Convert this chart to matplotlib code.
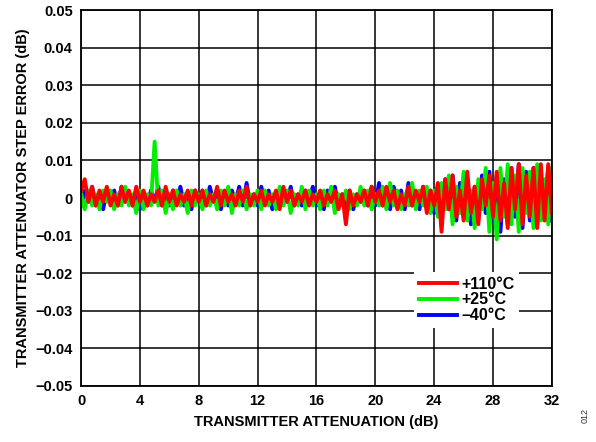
import numpy as np
import matplotlib.pyplot as plt

plt.rcParams['font.family'] = ['Liberation Sans', 'DejaVu Sans']
plt.rcParams['font.weight'] = 'bold'

# attenuation steps (dB), 0.25 dB grid
attenuation = np.arange(0, 32.01, 0.25)

# step error, in units of 0.001 dB
err_110c = [
    2, 5, -1, 3, -2, 2, -1, 3, -2, 1, -2, 3, -1, 2, -2, 3, -1,
    2, -2, 1, -1, 2, -2, 3, -1, 2, -2, 1, -1, 2, -2, 2, -1,
    2, -2, 1, -1, 3, -2, 2, -1, 1, -2, 2, -1, 3, -2, 1, -1,
    2, -2, 1, -1, 2, -3, 3, -1, 2, -2, 1, -1, 2, -2, 1, -1,
    2, -2, 1, -1, 2, -3, 1, -7, 2, -2, 1, -1, 2, -2, 3, -1,
    2, -2, 3, -1, 2, -3, 1, -2, 3, -2, 2, -1, 3, -4, 2, -2,
    4, -9, 5, -3, 6, -5, 2, -6, 7, -4, 3, -7, 5, -2, 6, -5,
    7, -6, 4, -8, 8, -3, 9, -7, 6, -5, 8, -8, 9, -6, 9, -4,
]
err_25c = [
    1, -3, 2, -2, 1, -3, 2, -1, 2, -3, 1, -2, 3, -2, 1, -4, 2,
    -3, 1, -2, 15, -2, 2, -4, 1, -3, 2, -2, 1, -4, 2, -2, 1,
    -3, 2, -2, 1, -3, 2, -2, 3, -4, 1, -2, 2, -3, 1, -2, 2,
    -3, 2, -2, 1, -3, 3, -2, 2, -4, 1, -2, 3, -3, 2, -2, 1,
    -3, 2, -2, 3, -4, 1, -2, 2, -3, 1, -2, 3, -2, 2, -3, 1,
    -2, 3, -3, 4, -2, 2, -3, 1, -2, 4, -3, 2, -2, 3, -4, 2,
    -5, 4, -3, 6, -7, 3, -4, 7, -6, 2, -8, 5, -3, 8, -9, 4,
    -11, 8, -5, 9, -7, 6, -9, 8, -4, 7, -8, 9, -6, 5, -7, 8,
]
err_m40c = [
    -2, 2, -1, 3, -2, 1, -3, 2, -1, 2, -2, 3, -1, 1, -2, 2, -3,
    1, -2, 2, -1, 3, -2, 1, -2, 2, -1, 3, -2, 1, -3, 2, -1,
    2, -2, 3, -1, 2, -3, 1, -2, 2, -1, 3, -2, 4, -2, 1, -2,
    3, -1, 2, -3, 1, -2, 2, -1, 3, -2, 1, -2, 2, -1, 3, -2,
    1, -3, 2, -1, 3, -2, 1, -2, 2, -3, 1, -1, 2, -2, 3, -2,
    4, -2, 2, -3, 3, -1, 2, -3, 4, -2, 1, -3, 3, -2, 2, -4,
    3, -5, 5, -3, 6, -6, 4, -4, 5, -7, 3, -5, 6, -4, 7, -6,
    6, -9, 5, -7, 8, -5, 9, -8, 7, -6, 8, -7, 6, -5, 8, -6,
]

x_ticks = [0, 4, 8, 12, 16, 20, 24, 28, 32]
y_ticks = [-0.05, -0.04, -0.03, -0.02, -0.01, 0, 0.01, 0.02, 0.03, 0.04, 0.05]
y_labels = ['\u22120.05', '\u22120.04', '\u22120.03', '\u22120.02', '\u22120.01', '0',
            '0.01', '0.02', '0.03', '0.04', '0.05']

fig = plt.figure(figsize=(5.96, 4.42), dpi=100)
ax = fig.add_axes([0.136, 0.127, 0.79, 0.85])

lw = 2.8
l_blue, = ax.plot(attenuation, np.array(err_m40c) / 1000, color='#0000ff', lw=lw, label='\u201340\u00b0C')
l_green, = ax.plot(attenuation, np.array(err_25c) / 1000, color='#00ee00', lw=lw, label='+25\u00b0C')
l_red, = ax.plot(attenuation, np.array(err_110c) / 1000, color='#ff0000', lw=lw, label='+110\u00b0C')

ax.set_xlim(0, 32)
ax.set_ylim(-0.05, 0.05)
ax.set_xticks(x_ticks)
ax.set_yticks(y_ticks)
ax.set_yticklabels(y_labels)
ax.grid(True, color='black', lw=1.1)
ax.set_axisbelow(True)
ax.tick_params(length=0, labelsize=10.5, pad=6)
for s in ax.spines.values():
    s.set_linewidth(1.3)

ax.set_xlabel('TRANSMITTER ATTENUATION (dB)', fontsize=10.5, fontweight='bold', labelpad=5)
ax.set_ylabel('TRANSMITTER ATTENUATOR STEP ERROR (dB)', fontsize=10.5, fontweight='bold', labelpad=4)

leg = ax.legend(handles=[l_red, l_green, l_blue], loc='upper left', bbox_to_anchor=(0.69, 0.325),
                frameon=True, fancybox=False, edgecolor='none', framealpha=1,
                fontsize=11.5, handlelength=2.4, handletextpad=0.25, labelspacing=0.05,
                borderpad=0.3)
for t in leg.get_texts():
    t.set_fontweight('bold')

fig.text(0.982, 0.06, '012', rotation=90, fontsize=6.5, fontweight='normal', color='#333333',
         ha='center', va='center')

fig.savefig('out.png', dpi=100)
